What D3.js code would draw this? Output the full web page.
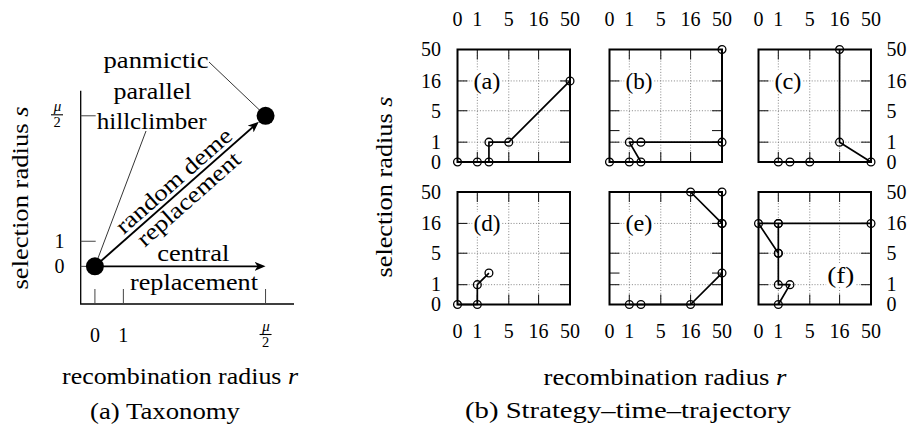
<!DOCTYPE html>
<html>
<head>
<meta charset="utf-8">
<script src="https://cdn.jsdelivr.net/npm/d3@7"></script>
<style>
body { margin: 0; background: #fff; }
text { font-family: "Liberation Serif", "DejaVu Serif", serif; fill: #000; }
</style>
</head>
<body>
<script>
// ---- data: small panels (b) ----
var radiusTicks = [0, 1, 5, 16, 50];
var gridTicks = [1, 5, 16];
var panelLabels = ["(a)", "(b)", "(c)", "(d)", "(e)", "(f)"];
// where the panel letter sits, in [r, s]
var labelAt = [[1.8, 16], [1.8, 16], [1.8, 16], [1.8, 16], [1.8, 16], [16.7, 1.8]];
// extra unlabeled s ticks seen on some panels
var extraTicks = [[], [2], [], [], [2], []];

// trajectories as [recombination radius r, selection radius s]
var trajA = [[0, 0], [1, 0], [2, 0], [2, 1], [5, 1], [50, 16]];
var trajB = [[0, 0], [1, 0], [2, 0], [1, 1], [2, 1], [50, 1], [50, 50]];
var trajC = [[1, 0], [2, 0], [5, 0], [50, 0], [16, 1], [16, 50]];
var trajD = [[0, 0], [1, 0], [1, 1], [2, 2]];
var trajE = [[1, 0], [2, 0], [16, 0], [50, 2], [50, 16], [50, 50], [16, 50], [50, 16]];
var trajF = [[1, 0], [2, 1], [1, 1], [1, 5], [1, 16], [1, 5], [0, 16], [1, 16], [50, 16]];
var trajectories = [trajA, trajB, trajC, trajD, trajE, trajF];

// ---- data: taxonomy (a) ----
var taxTickValues = [0, 1, 6];
var taxTickLabels = ["0", "1", "mu/2"];
var taxPanmictic = [6, 6];
var taxHillclimber = [0, 0];
var taxArrows = [[[0, 0], [6, 6]], [[0, 0], [6, 0]]];

var svg = d3.select("body").append("svg").attr("width", 912).attr("height", 427);
var wordSize = "23px", numSize = "20px";

// text stretched to the measured width (CM is a bit wider than Times)
function word(sel, x, y, str, w, italicTail) {
    var t = sel.append("text").attr("x", x).attr("y", y).attr("text-anchor", "middle")
        .style("font-size", wordSize).attr("textLength", w).attr("lengthAdjust", "spacingAndGlyphs");
    if (italicTail) {
        t.append("tspan").text(str);
        t.append("tspan").style("font-style", "italic").text(italicTail);
    } else t.text(str);
    return t;
}

var defs = svg.append("defs");
defs.append("marker").attr("id", "head")
    .attr("viewBox", "0 -4.5 11 9").attr("markerUnits", "userSpaceOnUse")
    .attr("markerWidth", 11).attr("markerHeight", 9)
    .attr("refX", 7).attr("refY", 0).attr("orient", "auto")
  .append("path").attr("d", "M11,0 L0,-4.5 L3,0 L0,4.5 Z").attr("fill", "#000");

// fraction mu over 2, bar centred at (cx, cy)
function frac(sel, cx, cy) {
    sel.append("text").attr("x", cx + 0.5).attr("y", cy - 3.5).attr("text-anchor", "middle")
        .style("font-size", "15px").style("font-style", "italic").text("\u03bc");
    sel.append("line").attr("x1", cx - 6).attr("x2", cx + 6).attr("y1", cy).attr("y2", cy)
        .attr("stroke", "#000").attr("stroke-width", 1.1);
    sel.append("text").attr("x", cx).attr("y", cy + 12.5).attr("text-anchor", "middle")
        .style("font-size", "14.5px").text("2");
}

// ================= (a) taxonomy =================
var tx = d3.scaleLinear().domain([-0.5, 7]).range([80.7, 294]);
var ty = d3.scaleLinear().domain([-1.5, 7]).range([304, 90.7]);
var tax = svg.append("g");

// axis lines (left + bottom only)
tax.append("path").attr("d", "M" + tx(-0.5) + "," + ty(7) + "V" + ty(-1.5) + "H" + tx(7))
    .attr("fill", "none").attr("stroke", "#000").attr("stroke-width", 1.3);

taxTickValues.forEach(function(v, i) {
    tax.append("line").attr("x1", tx(-0.5)).attr("x2", tx(-0.5) + 15)
        .attr("y1", ty(v)).attr("y2", ty(v)).attr("stroke", "#444").attr("stroke-width", 1);
    tax.append("line").attr("x1", tx(v)).attr("x2", tx(v))
        .attr("y1", ty(-1.5)).attr("y2", ty(-1.5) - 15).attr("stroke", "#444").attr("stroke-width", 1);
    if (taxTickLabels[i] == "mu/2") {
        frac(tax, 57, ty(v) - 1);
        frac(tax, tx(v), 334.5);
    } else {
        tax.append("text").attr("x", 64.5).attr("y", ty(v)).attr("dy", "0.34em")
            .attr("text-anchor", "end").style("font-size", numSize).text(taxTickLabels[i]);
        tax.append("text").attr("x", tx(v)).attr("y", 341.5)
            .attr("text-anchor", "middle").style("font-size", numSize).text(taxTickLabels[i]);
    }
});

var dotR = 9;
taxArrows.forEach(function(a, i) {
    var x0 = tx(a[0][0]), y0 = ty(a[0][1]), x1 = tx(a[1][0]), y1 = ty(a[1][1]);
    var len = Math.hypot(x1 - x0, y1 - y0);
    var ux = (x1 - x0) / len, uy = (y1 - y0) / len;
    // the diagonal one stops at the dot's edge
    var cut = (i == 0 ? dotR : 0) + 4;
    tax.append("line").attr("x1", x0).attr("y1", y0)
        .attr("x2", x1 - ux * cut).attr("y2", y1 - uy * cut)
        .attr("stroke", "#000").attr("stroke-width", 1.9).attr("marker-end", "url(#head)");
});

tax.selectAll("circle.dot").data([taxHillclimber, taxPanmictic]).enter().append("circle")
    .attr("cx", function(d) { return tx(d[0]); })
    .attr("cy", function(d) { return ty(d[1]); })
    .attr("r", dotR).attr("fill", "#000");

// annotations
function leader(xs, ys, pt) {
    var cx = tx(pt[0]), cy = ty(pt[1]);
    var len = Math.hypot(cx - xs, cy - ys);
    tax.append("line").attr("x1", xs).attr("y1", ys)
        .attr("x2", cx - (cx - xs) / len * dotR).attr("y2", cy - (cy - ys) / len * dotR)
        .attr("stroke", "#000").attr("stroke-width", 0.8);
}
word(tax, 156, 68, "panmictic", 105);
leader(209, 62, taxPanmictic);
word(tax, 152.5, 99.3, "parallel", 78);
word(tax, 151.7, 129.3, "hillclimber", 110);
leader(146, 131, taxHillclimber);

// text along the diagonal arrow
var ang = Math.atan2(ty(6) - ty(0), tx(6) - tx(0)) * 180 / Math.PI;
var diag = tax.append("g")
    .attr("transform", "translate(" + tx(3) + "," + ty(3) + ") rotate(" + ang + ")");
word(diag, 2, -4.5, "random deme", 147);
word(diag, 1, 19, "replacement", 130);

word(tax, 193.3, 260.7, "central", 72);
word(tax, 194, 290, "replacement", 128);

// axis titles and caption
word(tax, 0, 0, "selection radius ", 183, "s").attr("transform", "translate(28,198) rotate(-90)");
word(tax, 180, 384, "recombination radius ", 236, "r");
word(tax, 165, 419, "(a) Taxonomy", 150);

// ================= (b) trajectories =================
var colLeft = [457.5, 609.5, 758.5];
var rowTop = [49.5, 192];
var side = 112.5;

var x = d3.scaleSymlog().constant(1).domain([0, 50]).range([0, side]);
var y = d3.scaleSymlog().constant(1).domain([0, 50]).range([side, 0]);
var line = d3.line().x(function(d) { return x(d[0]); }).y(function(d) { return y(d[1]); });
var tickLen = 10;

trajectories.forEach(function(traj, i) {
    var col = i % 3, row = Math.floor(i / 3);
    var g = svg.append("g").attr("transform", "translate(" + colLeft[col] + "," + rowTop[row] + ")");

    // dotted grid
    g.selectAll("line.gx").data(gridTicks).enter().append("line")
        .attr("x1", function(d) { return x(d); }).attr("x2", function(d) { return x(d); })
        .attr("y1", 0).attr("y2", side)
        .attr("stroke", "#666").attr("stroke-width", 0.8).attr("stroke-dasharray", "1,1.8");
    g.selectAll("line.gy").data(gridTicks).enter().append("line")
        .attr("y1", function(d) { return y(d); }).attr("y2", function(d) { return y(d); })
        .attr("x1", 0).attr("x2", side)
        .attr("stroke", "#666").attr("stroke-width", 0.8).attr("stroke-dasharray", "1,1.8");

    // inward ticks on all four sides
    var sT = gridTicks.concat(extraTicks[i]);
    sT.forEach(function(t) {
        g.append("line").attr("x1", 0).attr("x2", tickLen).attr("y1", y(t)).attr("y2", y(t))
            .attr("stroke", "#222").attr("stroke-width", 1.1);
        g.append("line").attr("x1", side - tickLen).attr("x2", side).attr("y1", y(t)).attr("y2", y(t))
            .attr("stroke", "#222").attr("stroke-width", 1.1);
    });
    gridTicks.forEach(function(t) {
        g.append("line").attr("y1", 0).attr("y2", tickLen).attr("x1", x(t)).attr("x2", x(t))
            .attr("stroke", "#222").attr("stroke-width", 1.1);
        g.append("line").attr("y1", side - tickLen).attr("y2", side).attr("x1", x(t)).attr("x2", x(t))
            .attr("stroke", "#222").attr("stroke-width", 1.1);
    });

    // panel letter on a white patch
    var lab = g.append("text").attr("x", x(labelAt[i][0])).attr("y", y(labelAt[i][1]))
        .attr("dy", "0.33em").attr("text-anchor", "middle")
        .style("font-size", wordSize).attr("textLength", 27).attr("lengthAdjust", "spacingAndGlyphs")
        .text(panelLabels[i]);
    var bb = lab.node().getBBox();
    g.insert("rect", "text").attr("x", bb.x - 1).attr("y", bb.y + 1)
        .attr("width", bb.width + 2).attr("height", bb.height - 2).attr("fill", "#fff");

    g.append("rect").attr("x", 0).attr("y", 0).attr("width", side).attr("height", side)
        .attr("fill", "none").attr("stroke", "#000").attr("stroke-width", 2);

    g.append("path").datum(traj).attr("d", line)
        .attr("fill", "none").attr("stroke", "#000").attr("stroke-width", 1.7)
        .attr("stroke-linejoin", "round");
    g.selectAll("circle").data(traj).enter().append("circle")
        .attr("cx", function(d) { return x(d[0]); })
        .attr("cy", function(d) { return y(d[1]); })
        .attr("r", 3.9).attr("fill", "none").attr("stroke", "#000").attr("stroke-width", 1.3);

    // tick labels on the outer sides only
    var ly = row == 0 ? -23.5 : side + 33.5;
    g.selectAll("text.xl").data(radiusTicks).enter().append("text")
        .attr("x", function(d) { return x(d); }).attr("y", ly)
        .attr("text-anchor", "middle").style("font-size", numSize)
        .text(function(d) { return d; });
    if (col == 0 || col == 2) {
        var lx = col == 0 ? -16.5 : side + 15.5;
        g.selectAll("text.yl").data(radiusTicks).enter().append("text")
            .attr("x", lx).attr("y", function(d) { return y(d); }).attr("dy", "0.34em")
            .attr("text-anchor", col == 0 ? "end" : "start").style("font-size", numSize)
            .text(function(d) { return d; });
    }
});

word(svg, 0, 0, "selection radius ", 181, "s").attr("transform", "translate(391.5,187) rotate(-90)");
word(svg, 665, 385, "recombination radius ", 243, "r");
word(svg, 628, 418, "(b) Strategy\u2013time\u2013trajectory", 326);
</script>
</body>
</html>
